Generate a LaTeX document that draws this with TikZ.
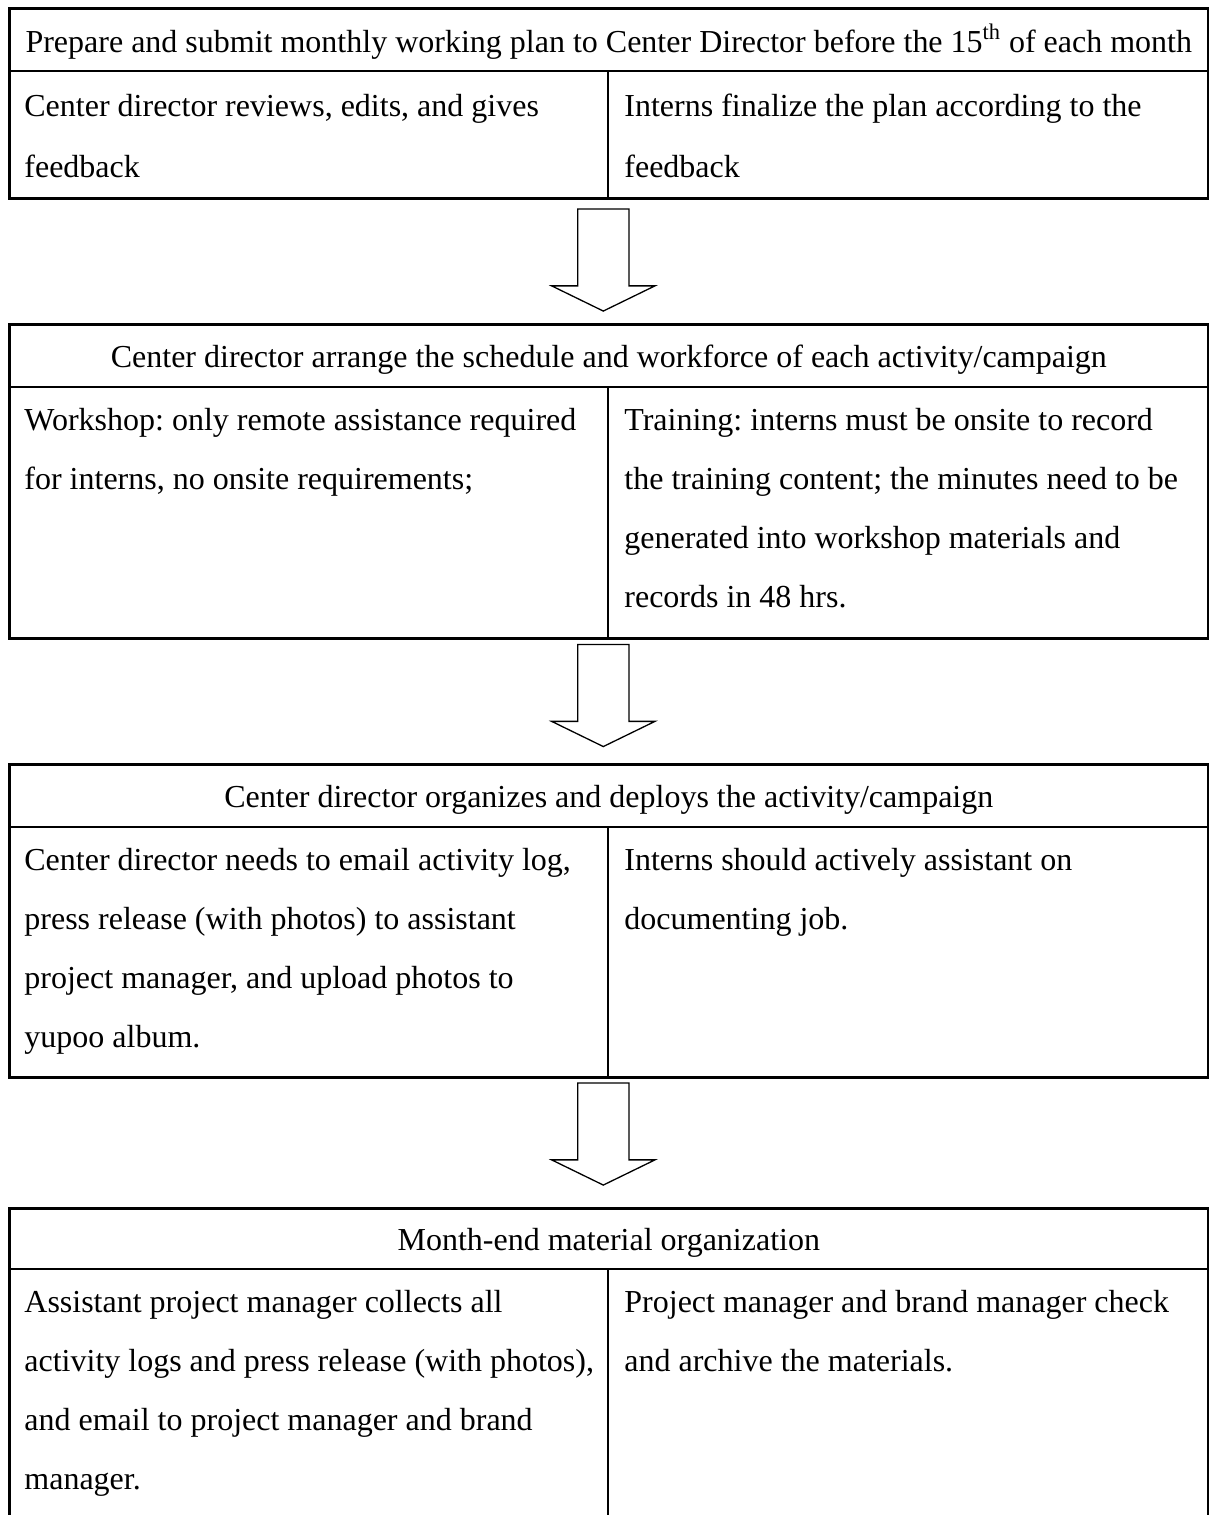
\documentclass[tikz,border=0pt]{standalone}
\usepackage{fontspec}
\setmainfont{Liberation Serif}
\usetikzlibrary{calc,positioning,shapes.arrows}

\tikzset{
    tabframe/.style={draw, line width=1.3pt, anchor=north west, minimum width=599.5pt, inner sep=0pt},
    inner/.style={line width=1.1pt},
    head/.style={anchor=base, inner sep=0pt, font=\fontsize{16}{29.5}\selectfont\frenchspacing},
    cell/.style={anchor=north west, inner sep=0pt, text width=330pt, align=flush left,
        font=\fontsize{16}{29.5}\selectfont\frenchspacing, execute at begin node={\rule{0pt}{21.5pt}}},
    bigarrow/.style={draw, line width=0.65pt, single arrow, shape border rotate=270, inner sep=0pt,
        text width=25pt, text height=12.5pt, text depth=12.5pt,
        minimum height=51pt, single arrow head extend=13pt, single arrow tip angle=128}
}

\begin{document}
\begin{tikzpicture}[x=0.5pt,y=-0.5pt]
    \path[use as bounding box, clip] (0,0) rectangle (1209,1515);

    % tables
    \node[tabframe, minimum height=95pt] (tab1) at (8,7) {};
    \node[tabframe, minimum height=157pt] (tab2) at (8,323) {};
    \node[tabframe, minimum height=156.5pt] (tab3) at (8,763) {};
    \node[tabframe, minimum height=157pt] (tab4) at (8,1207) {};

    \draw[inner] ($(tab1.north west)+(0,64)$) -- ($(tab1.north east)+(0,64)$) ($(tab1.north west)+(600,64)$) -- ($(tab1.south west)+(600,0)$);
    \draw[inner] ($(tab2.north west)+(0,64)$) -- ($(tab2.north east)+(0,64)$) ($(tab2.north west)+(600,64)$) -- ($(tab2.south west)+(600,0)$);
    \draw[inner] ($(tab3.north west)+(0,64)$) -- ($(tab3.north east)+(0,64)$) ($(tab3.north west)+(600,64)$) -- ($(tab3.south west)+(600,0)$);
    \draw[inner] ($(tab4.north west)+(0,62)$) -- ($(tab4.north east)+(0,62)$) ($(tab4.north west)+(600,62)$) -- ($(tab4.south west)+(600,0)$);

    \node[head] (hd1) at ($(tab1.north)+(0,45)$) {Prepare and submit monthly working plan to Center Director before the 15\textsuperscript{th} of each month};
    \node[cell, font=\fontsize{16}{30.5}\selectfont\frenchspacing] (l1) at ($(tab1.north west)+(16,66)$) {Center director reviews, edits, and gives\\feedback};
    \node[cell, font=\fontsize{16}{30.5}\selectfont\frenchspacing] (r1) at ($(tab1.north west)+(616,66)$) {Interns finalize the plan according to the\\feedback};

    \node[head] (hd2) at ($(tab2.north)+(0,44)$) {Center director arrange the schedule and workforce of each activity/campaign};
    \node[cell] (l2) at ($(tab2.north west)+(16,64)$) {Workshop: only remote assistance required\\for interns, no onsite requirements;};
    \node[cell] (r2) at ($(tab2.north west)+(616,64)$) {Training: interns must be onsite to record\\the training content; the minutes need to be\\generated into workshop materials and\\records in 48 hrs.};

    \node[head] (hd3) at ($(tab3.north)+(0,44)$) {Center director organizes and deploys the activity/campaign};
    \node[cell] (l3) at ($(tab3.north west)+(16,64)$) {Center director needs to email activity log,\\press release (with photos) to assistant\\project manager, and upload photos to\\yupoo album.};
    \node[cell] (r3) at ($(tab3.north west)+(616,64)$) {Interns should actively assistant on\\documenting job.};

    \node[head] (hd4) at ($(tab4.north)+(0,43)$) {Month-end material organization};
    \node[cell] (l4) at ($(tab4.north west)+(16,62)$) {Assistant project manager collects all\\activity logs and press release (with photos),\\and email to project manager and brand\\manager.};
    \node[cell] (r4) at ($(tab4.north west)+(616,62)$) {Project manager and brand manager check\\and archive the materials.};

    % arrows between the tables
    \node[bigarrow, xshift=-2.75pt, yshift=3.75pt] (ar1) at ($(tab1.south)!0.5!(tab2.north)$) {};
    \node[bigarrow, xshift=-2.75pt, yshift=6pt] (ar2) at ($(tab2.south)!0.5!(tab3.north)$) {};
    \node[bigarrow, xshift=-2.75pt, yshift=7.5pt] (ar3) at ($(tab3.south)!0.5!(tab4.north)$) {};
\end{tikzpicture}
\end{document}
